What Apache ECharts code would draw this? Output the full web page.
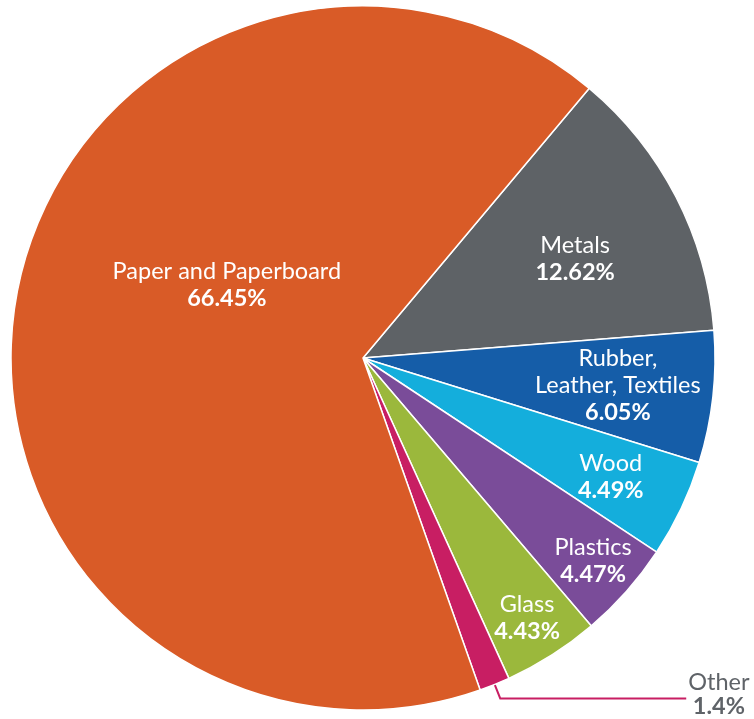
<!DOCTYPE html>
<html>
<head>
<meta charset="utf-8">
<script src="https://cdn.jsdelivr.net/npm/echarts@6/dist/echarts.min.js"></script>
<style>
html,body{margin:0;padding:0;background:#fff;}
#chart{width:754px;height:719px;}
</style>
</head>
<body>
<div id="chart"></div>
<script>
// Data
const categories = ["Metals", "Rubber,\nLeather, Textiles", "Wood", "Plastics", "Glass", "Other", "Paper and Paperboard"];
const shares = [12.62, 6.05, 4.49, 4.47, 4.43, 1.4, 66.45];

// Styling (not data)
const colors = ["#5E6266", "#155DA8", "#14AEDC", "#7A4C99", "#9BB83C", "#C81E63", "#D95B27"];
const labelShift = [[53, -17], [77, 8], [86, 42], [96, 84], [68, 109], [0, 0], [40, -41]];

const chart = echarts.init(document.getElementById('chart'));
const FONT = 'Lato';
const FS = 23.5;

const data = categories.map((name, i) => {
  const item = { name: name, value: shares[i], itemStyle: { color: colors[i] } };
  if (name === 'Other') {
    item.label = {
      position: 'outside',
      formatter: (p) => '{on|' + p.name + '}\n{op|' + p.value + '%}',
      rich: {
        on: { fontFamily: FONT, fontSize: FS, color: '#5F6368', lineHeight: 24, align: 'center' },
        op: { fontFamily: FONT, fontSize: FS, fontWeight: 'bold', color: '#5F6368', lineHeight: 24, align: 'center' }
      },
      padding: [0, 0, 8, 0],
      distanceToLabelLine: 2
    };
    item.labelLine = { show: true, length: 15, length2: 186, smooth: false, lineStyle: { color: colors[i], width: 2 } };
  }
  return item;
});

chart.setOption({
  backgroundColor: '#fff',
  animation: false,
  series: [{
    type: 'pie',
    center: [363, 358],
    radius: [0, 352],
    startAngle: 50,
    clockwise: true,
    avoidLabelOverlap: false,
    data: data,
    itemStyle: { borderColor: '#fff', borderWidth: 1.5 },
    label: {
      show: true,
      position: 'inside',
      formatter: (p) => {
        const lines = p.name.split('\n').map(s => '{n|' + s + '}');
        return lines.join('\n') + '\n{p|' + p.value + '%}';
      },
      rich: {
        n: { fontFamily: FONT, fontSize: FS, color: '#fff', lineHeight: 27, align: 'center' },
        p: { fontFamily: FONT, fontSize: FS, fontWeight: 'bold', color: '#fff', lineHeight: 27, align: 'center' }
      }
    },
    labelLine: { show: false },
    labelLayout: (params) => {
      const s = labelShift[params.dataIndex];
      return { dx: s[0], dy: s[1] };
    },
    emphasis: { disabled: true }
  }]
});
</script>
</body>
</html>
